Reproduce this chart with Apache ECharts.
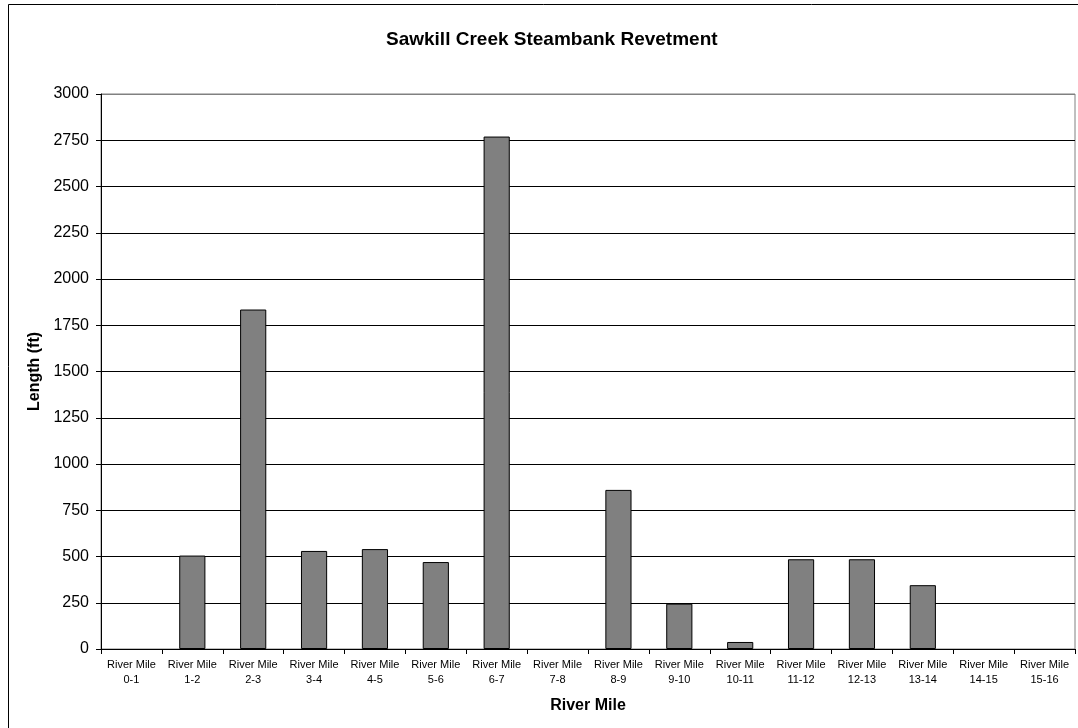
<!DOCTYPE html>
<html>
<head>
<meta charset="utf-8">
<script src="https://cdn.jsdelivr.net/npm/echarts@6/dist/echarts.min.js"></script>
<style>
html,body{margin:0;padding:0;background:#fff;}
#chart{width:1078px;height:728px;}
</style>
</head>
<body>
<div id="chart"></div>
<script>
var categories = ['River Mile\n0-1','River Mile\n1-2','River Mile\n2-3','River Mile\n3-4','River Mile\n4-5','River Mile\n5-6','River Mile\n6-7','River Mile\n7-8','River Mile\n8-9','River Mile\n9-10','River Mile\n10-11','River Mile\n11-12','River Mile\n12-13','River Mile\n13-14','River Mile\n14-15','River Mile\n15-16'];
var lengths = [0, 505, 1835, 530, 540, 470, 2770, 0, 860, 245, 38, 485, 485, 345, 0, 0];
var titleText = 'Sawkill Creek Steambank Revetment';
var xName = 'River Mile';
var yName = 'Length (ft)';

var splitColors = [];
for (var i = 0; i < 12; i++) splitColors.push('#000000');
splitColors.push('#808080');

var chart = echarts.init(document.getElementById('chart'), null, {renderer: 'canvas'});
chart.setOption({
  backgroundColor: '#ffffff',
  animation: false,
  title: {
    text: titleText,
    left: 381,
    top: 25,
    textStyle: {fontFamily: 'Liberation Sans, Arial, sans-serif', fontSize: 19, fontWeight: 'bold', color: '#000'}
  },
  graphic: [{
    type: 'rect',
    z: -10,
    shape: {x: 8.5, y: 4.5, width: 1200, height: 900},
    style: {fill: 'none', stroke: '#000', lineWidth: 1}
  }],
  grid: {
    left: 101, top: 94, right: 3, bottom: 79,
    show: true, borderColor: '#808080', borderWidth: 1, backgroundColor: 'transparent'
  },
  xAxis: {
    type: 'category',
    data: categories,
    name: xName,
    nameLocation: 'middle',
    nameGap: 49,
    nameTextStyle: {fontFamily: 'Liberation Sans, Arial, sans-serif', fontSize: 16, fontWeight: 'bold', color: '#000'},
    axisLine: {lineStyle: {color: '#000', width: 1}},
    axisTick: {show: true, alignWithLabel: false, length: 5, lineStyle: {color: '#000'}},
    axisLabel: {fontFamily: 'Liberation Sans, Arial, sans-serif', fontSize: 11, color: '#000', lineHeight: 15, margin: 8, interval: 0},
    splitLine: {show: false}
  },
  yAxis: {
    type: 'value',
    min: 0, max: 3000, interval: 250,
    name: yName,
    nameLocation: 'middle',
    nameGap: 51,
    nameRotate: 90,
    nameTextStyle: {fontFamily: 'Liberation Sans, Arial, sans-serif', fontSize: 16, fontWeight: 'bold', color: '#000'},
    axisLine: {show: true, lineStyle: {color: '#000', width: 1}},
    axisTick: {show: true, length: 5, lineStyle: {color: '#000'}},
    axisLabel: {fontFamily: 'Liberation Sans, Arial, sans-serif', fontSize: 16, color: '#000', margin: 12,
      formatter: function (v) { return String(v); }},
    splitLine: {show: true, lineStyle: {color: splitColors, width: 1}}
  },
  series: [{
    type: 'bar',
    data: lengths.map(function (v) { return v === 0 ? '-' : v; }),
    barWidth: '43%',
    itemStyle: {color: '#808080', borderColor: '#000', borderWidth: 1}
  }]
});
</script>
</body>
</html>
